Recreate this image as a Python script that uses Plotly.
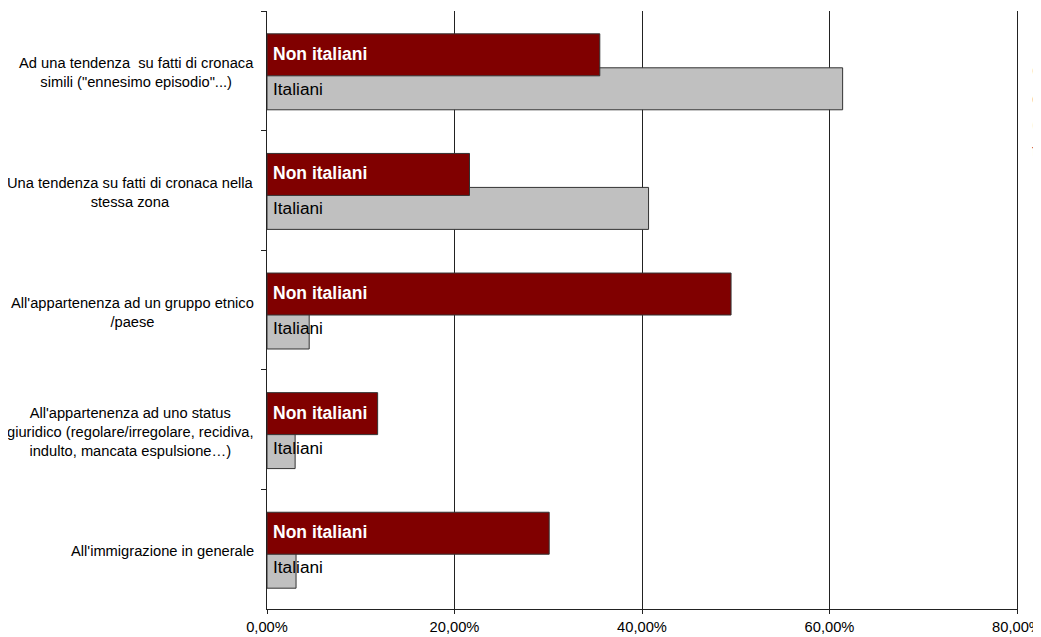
import plotly.graph_objects as go

categories = [
    'Ad una tendenza  su fatti di cronaca<br>simili ("ennesimo episodio"...)',
    'Una tendenza su fatti di cronaca nella<br>stessa zona',
    "All'appartenenza ad un gruppo etnico<br>/paese",
    "All'appartenenza ad uno status<br>giuridico (regolare/irregolare, recidiva,<br>indulto, mancata espulsione…)",
    "All'immigrazione in generale",
]
non_italiani = [35.5, 21.6, 49.5, 11.8, 30.1]
italiani = [61.4, 40.7, 4.5, 3.0, 3.1]
tick_vals = [0, 20, 40, 60, 80]
tick_labels = ["0,00%", "20,00%", "40,00%", "60,00%", "80,00%"]
side_text = ["C", "e", "(", "t"]

FONT = "Liberation Sans, Arial, sans-serif"
fig = go.Figure()
fig.add_trace(go.Bar(
    y=categories, x=italiani, orientation="h", name="Italiani",
    marker=dict(color="#c0c0c0", line=dict(color="#333333", width=1)),
    width=0.351, offset=-0.025, hoverinfo="x",
))
fig.add_trace(go.Bar(
    y=categories, x=non_italiani, orientation="h", name="Non italiani",
    marker=dict(color="#800000", line=dict(color="#333333", width=1)),
    width=0.351, offset=-0.309, hoverinfo="x",
))

annotations = []
for c in categories:
    annotations.append(dict(x=0, y=c, xref="x", yref="y", text="<b>Non italiani</b>",
                            showarrow=False, xanchor="left", yanchor="middle",
                            xshift=4, yshift=17,
                            font=dict(family=FONT, size=17.5, color="white")))
    annotations.append(dict(x=0, y=c, xref="x", yref="y", text="Italiani",
                            showarrow=False, xanchor="left", yanchor="middle",
                            xshift=4, yshift=-18,
                            font=dict(family=FONT, size=17.3, color="black")))
    annotations.append(dict(x=-0.0147, y=c, xref="paper", yref="y", text=c,
                            showarrow=False, xanchor="right", yanchor="middle",
                            align="center", yshift=-2,
                            font=dict(family=FONT, size=14.7, color="black")))

annotations.append(dict(x=1.0227, y=0.923, xref="paper", yref="paper",
                        text="<br>".join(side_text), showarrow=False,
                        xanchor="left", yanchor="top", align="left", xshift=-4,
                        font=dict(family=FONT, size=20.5, color="#a03050")))

# the page body adds an 8px margin, so the figure is sized to the visible area
fig.update_layout(
    width=1033, height=629,
    margin=dict(l=259, r=24, t=3, b=28, autoexpand=False),
    paper_bgcolor="white", plot_bgcolor="white",
    barmode="overlay", showlegend=False,
    annotations=annotations,
    font=dict(family=FONT, size=14.7, color="black"),
)
fig.update_xaxes(
    range=[0, 80], tickvals=tick_vals, ticktext=tick_labels, automargin=False,
    ticklabeloverflow="allow",
    showgrid=True, gridcolor="#222222", gridwidth=1,
    showline=True, linecolor="#222222", linewidth=1,
    ticks="outside", ticklen=4, tickcolor="#222222",
    zeroline=False, tickfont=dict(family=FONT, size=14.7, color="black"),
)
fig.update_yaxes(
    autorange="reversed", showticklabels=False, automargin=False,
    showline=True, mirror=True, linecolor="#222222", linewidth=1,
    ticks="outside", ticklen=5, tickcolor="#222222", tickson="boundaries",
    showgrid=False,
)

fig.write_html("out.html")
